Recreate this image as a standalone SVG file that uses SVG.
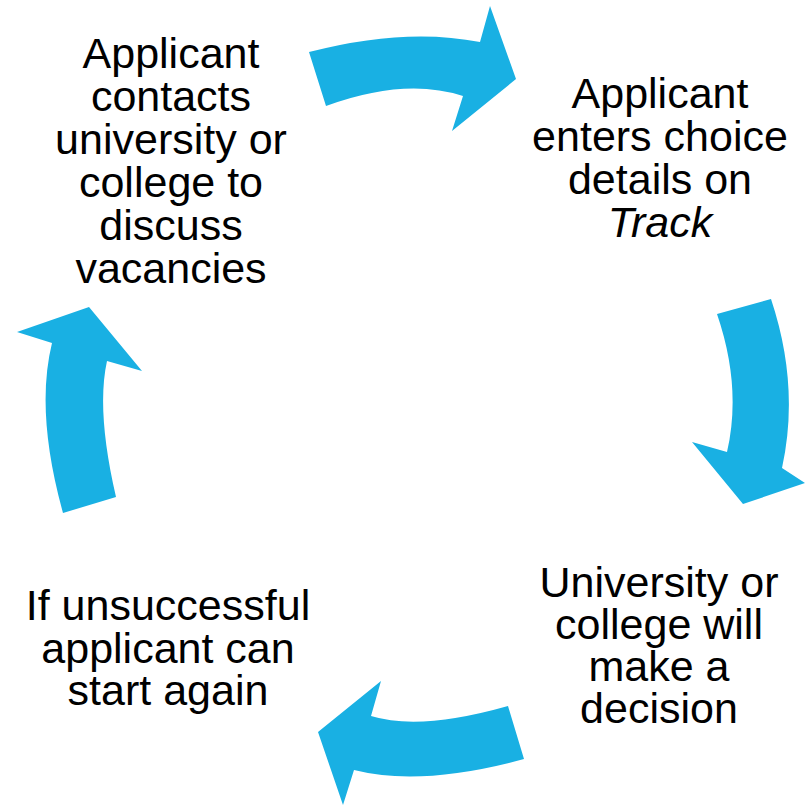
<svg xmlns="http://www.w3.org/2000/svg" width="805" height="805" viewBox="0 0 805 805">
<style>
.arrow{fill:#19B0E3;stroke:none}
.lbl{font-family:"Liberation Sans",Arial,sans-serif;font-size:43px;fill:#000;text-anchor:middle}
.it{font-style:italic}
</style>
<rect width="805" height="805" fill="#fff"/>
<g id="connectors">
<path class="arrow" d="M309,52 Q405,27 480,42 L490,6 L516,79 L452,131 L463,96 Q405,77 326,106 Z"/>
<path class="arrow" d="M717,314 L771,299 Q800,386 782,468 L805,483 L743,504 L692,442 L727,452 Q742,387 717,314 Z"/>
<path class="arrow" d="M508,706 Q420,731 371,716 L381,681 L318,732 L343,805 L354,770 Q421,787 524,759 Z"/>
<path class="arrow" d="M63,513 L116,497 Q96,411 107,361 L142,371 L89,307 L17,332 L52,343 Q35,412 63,513 Z"/>
</g>
<g id="node-contact">
<text class="lbl" x="171" y="67.7"><tspan x="171" y="67.7">Applicant</tspan><tspan x="171" y="110.8">contacts</tspan><tspan x="171" y="153.9">university or</tspan><tspan x="171" y="197">college to</tspan><tspan x="171" y="240.1">discuss</tspan><tspan x="171" y="283.2">vacancies</tspan></text>
</g>
<g id="node-track">
<text class="lbl" x="660" y="107.7"><tspan x="660" y="107.7">Applicant</tspan><tspan x="660" y="150.7">enters choice</tspan><tspan x="660" y="193.7">details on</tspan><tspan class="it" x="660" y="236.7">Track</tspan></text>
</g>
<g id="node-decision">
<text class="lbl" x="659" y="596.7"><tspan x="659" y="596.7">University or</tspan><tspan x="659" y="638.9">college will</tspan><tspan x="659" y="681.1">make a</tspan><tspan x="659" y="723.3">decision</tspan></text>
</g>
<g id="node-again">
<text class="lbl" x="168" y="620"><tspan x="168" y="620">If unsuccessful</tspan><tspan x="168" y="662.5">applicant can</tspan><tspan x="168" y="705">start again</tspan></text>
</g>
</svg>
